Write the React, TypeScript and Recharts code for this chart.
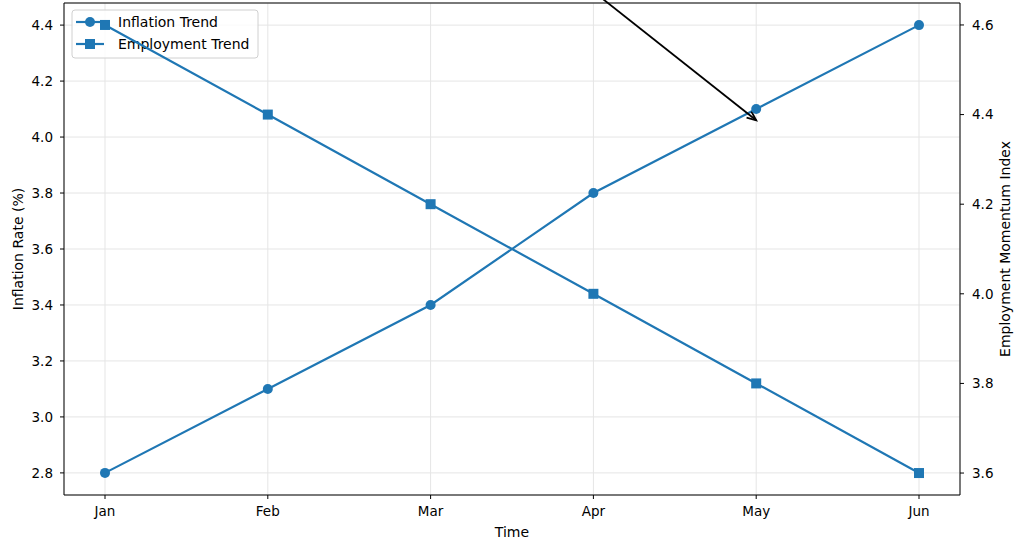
import React from "react";
import {
  LineChart, Line, XAxis, YAxis, CartesianGrid, ReferenceLine, Customized,
} from "recharts";

const months = ["Jan", "Feb", "Mar", "Apr", "May", "Jun"];
const inflation = [2.8, 3.1, 3.4, 3.8, 4.1, 4.4];
const employment = [4.6, 4.4, 4.2, 4.0, 3.8, 3.6];
const leftTicks = [2.8, 3.0, 3.2, 3.4, 3.6, 3.8, 4.0, 4.2, 4.4];
const rightTicks = [3.6, 3.8, 4.0, 4.2, 4.4, 4.6];
const leftDomain = [2.721, 4.479];
const rightDomain = [3.551, 4.649];
const arrowFrom = { x: "Apr", y: 4.52 };
const arrowTo = { x: "May", y: 4.06 };

const BLUE = "#1f77b4";
const FONT = "DejaVu Sans, sans-serif";

const data = months.map((m, i) => ({ month: m, inflation: inflation[i], employment: employment[i] }));

const Square = (p: any) => (
  <rect key={`sq-${p.index}`} x={p.cx - 5} y={p.cy - 5} width={10} height={10} fill={BLUE} />
);

const Arrow = (p: any) => {
  const { x1, y1, x2, y2 } = p;
  const ang = Math.atan2(y2 - y1, x2 - x1);
  const len = 10;
  const spread = 0.4;
  const a1 = { x: x2 - len * Math.cos(ang - spread), y: y2 - len * Math.sin(ang - spread) };
  const a2 = { x: x2 - len * Math.cos(ang + spread), y: y2 - len * Math.sin(ang + spread) };
  return (
    <g>
      <line x1={x1} y1={y1} x2={x2} y2={y2} stroke="#000" strokeWidth={1.8} />
      <polyline points={`${a1.x},${a1.y} ${x2},${y2} ${a2.x},${a2.y}`} fill="none" stroke="#000" strokeWidth={1.8} />
    </g>
  );
};

const LegendBox = () => (
  <g fontFamily={FONT} fontSize={14} fill="#000">
    <rect x={72} y={10} width={186} height={48} rx={3} fill="#fff" fillOpacity={0.8} stroke="#d0d0d0" />
    <line x1={76} y1={22} x2={104} y2={22} stroke={BLUE} strokeWidth={2.2} />
    <circle cx={90} cy={22} r={5} fill={BLUE} />
    <text x={118} y={27}>Inflation Trend</text>
    <line x1={76} y1={44} x2={104} y2={44} stroke={BLUE} strokeWidth={2.2} />
    <rect x={85} y={39} width={10} height={10} fill={BLUE} />
    <text x={118} y={49}>Employment Trend</text>
  </g>
);

const vLabel = (text: string, x: number) => (props: any) => {
  const vb = props.viewBox;
  const cy = vb.y + vb.height / 2;
  return (
    <text x={x} y={cy} transform={`rotate(-90, ${x}, ${cy})`} textAnchor="middle" dominantBaseline="central"
      fontFamily={FONT} fontSize={14} fill="#000">{text}</text>
  );
};

export default function App() {
  const tickStyle = { fontFamily: FONT, fontSize: 13.5, fill: "#000" };
  return (
    <div style={{ width: 1024, height: 543, background: "#fff" }}>
      <style>{"body{margin:0}"}</style>
      <LineChart width={1024} height={543} data={data} margin={{ top: 3, right: 0, bottom: 0, left: 0 }}>
        <CartesianGrid yAxisId="left" stroke="#e5e5e5" strokeWidth={1} />
        <XAxis
          dataKey="month"
          padding={{ left: 41, right: 41 }}
          height={48}
          stroke="#000"
          tick={tickStyle}
          tickSize={4}
          tickMargin={7}
          label={{ value: "Time", position: "insideBottom", offset: 6, style: { fontFamily: FONT, fontSize: 14, fill: "#000" } }}
        />
        <YAxis
          yAxisId="left"
          domain={leftDomain}
          ticks={leftTicks}
          allowDataOverflow
          width={64}
          stroke="#000"
          tick={tickStyle}
          tickSize={4}
          tickMargin={7}
          tickFormatter={(v: number) => v.toFixed(1)}
          label={{ content: vLabel("Inflation Rate (%)", 18) }}
        />
        <YAxis
          yAxisId="right"
          orientation="right"
          domain={rightDomain}
          ticks={rightTicks}
          allowDataOverflow
          width={64}
          stroke="#000"
          tick={tickStyle}
          tickSize={4}
          tickMargin={8}
          tickFormatter={(v: number) => v.toFixed(1)}
          label={{ content: vLabel("Employment Momentum Index", 1005) }}
        />
        <ReferenceLine yAxisId="left" y={leftDomain[1]} stroke="#000" ifOverflow="visible" />
        <Customized component={LegendBox} />
        <Line
          yAxisId="left"
          dataKey="inflation"
          stroke={BLUE}
          strokeWidth={2.2}
          dot={{ r: 5, fill: BLUE, stroke: BLUE, strokeWidth: 0 }}
          activeDot={false}
          isAnimationActive={false}
        />
        <Line
          yAxisId="right"
          dataKey="employment"
          stroke={BLUE}
          strokeWidth={2.2}
          dot={Square}
          activeDot={false}
          isAnimationActive={false}
        />
        <ReferenceLine
          yAxisId="left"
          segment={[arrowFrom, arrowTo]}
          ifOverflow="visible"
          shape={Arrow}
        />
      </LineChart>
    </div>
  );
}
